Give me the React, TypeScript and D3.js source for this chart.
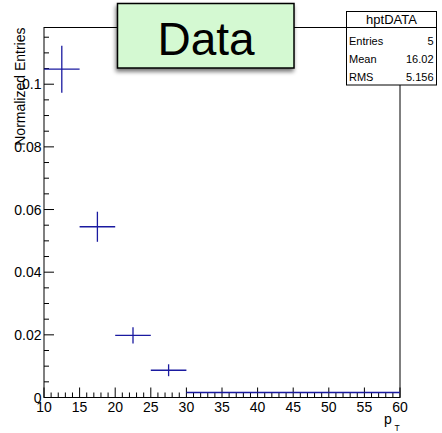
import React from "react";
import * as d3 from "d3";

// Histogram hptDATA: normalized entries per pT bin
const binEdges = [10, 15, 20, 25, 30, 35, 40, 45, 50, 55, 60];
const binValues = [0.1048, 0.0545, 0.0198, 0.0087, 0.0016, 0.0016, 0.0016, 0.0016, 0.0016, 0.0016];
const binErrors = [0.0075, 0.0048, 0.0026, 0.0019, 0, 0, 0, 0, 0, 0];

const xMajorTicks = [10, 15, 20, 25, 30, 35, 40, 45, 50, 55, 60];
const yMajorTicks = [0, 0.02, 0.04, 0.06, 0.08, 0.1];
const yTickLabels = ["0", "0.02", "0.04", "0.06", "0.08", "0.1"];

const statsTitle = "hptDATA";
const statsRows = [
  ["Entries", "5"],
  ["Mean", "16.02"],
  ["RMS", "5.156"],
];
const legendText = "Data";
const yTitle = "Normalized Entries";

const W = 442;
const H = 433;
const frame = { left: 44, right: 400, top: 27.5, bottom: 397.5 };
const font = "'Liberation Sans', Arial, Helvetica, sans-serif";
const markerColor = "#1a1aa0";

export default function App() {
  const x = d3.scaleLinear().domain([10, 60]).range([frame.left, frame.right]);
  const y = d3.scaleLinear().domain([0, 0.1181]).range([frame.bottom, frame.top]);

  const xMinor = d3.range(10, 61, 1);
  const yMinor = d3.range(0, 0.1181, 0.005);

  const bins = binValues.map((v, i) => ({
    x0: binEdges[i],
    x1: binEdges[i + 1],
    v,
    e: binErrors[i],
  }));

  return (
    <svg
      width={W}
      height={H}
      style={{ position: "absolute", left: 0, top: 0, background: "#fff" }}
      fontFamily={font}
    >
      <defs>
        <filter id="paveShadow" x="-20%" y="-30%" width="140%" height="170%">
          <feGaussianBlur in="SourceAlpha" stdDeviation="2" />
          <feOffset dx="-1" dy="3" result="blur" />
          <feComponentTransfer>
            <feFuncA type="linear" slope="0.55" />
          </feComponentTransfer>
          <feMerge>
            <feMergeNode />
            <feMergeNode in="SourceGraphic" />
          </feMerge>
        </filter>
      </defs>

      {/* frame */}
      <rect
        x={frame.left}
        y={frame.top}
        width={frame.right - frame.left}
        height={frame.bottom - frame.top}
        fill="none"
        stroke="#000"
        strokeWidth={1}
      />

      {/* x-axis ticks (pointing up into the frame) */}
      {xMinor.map((t) => {
        const major = t % 5 === 0;
        return (
          <line
            key={"xt" + t}
            x1={x(t)}
            x2={x(t)}
            y1={frame.bottom}
            y2={frame.bottom - (major ? 10 : 5)}
            stroke="#000"
            strokeWidth={1}
          />
        );
      })}
      {xMajorTicks.map((t) => (
        <text
          key={"xl" + t}
          x={x(t)}
          y={412}
          fontSize={14}
          textAnchor="middle"
          fill="#000"
        >
          {t}
        </text>
      ))}

      {/* y-axis ticks (pointing right into the frame) */}
      {yMinor.map((t, i) => {
        const major = i % 4 === 0;
        return (
          <line
            key={"yt" + i}
            x1={frame.left}
            x2={frame.left + (major ? 10 : 5)}
            y1={y(t)}
            y2={y(t)}
            stroke="#000"
            strokeWidth={1}
          />
        );
      })}
      {yMajorTicks.map((t, i) => (
        <text
          key={"yl" + i}
          x={frame.left - 2.5}
          y={y(t) + 5}
          fontSize={14}
          textAnchor="end"
          fill="#000"
        >
          {yTickLabels[i]}
        </text>
      ))}

      {/* axis titles */}
      <text
        transform={`translate(24.5, ${frame.top}) rotate(-90)`}
        fontSize={14}
        textAnchor="end"
        fill="#000"
      >
        {yTitle}
      </text>
      <text x={384} y={424} fontSize={14} fill="#000">
        p
      </text>
      <text x={394.5} y={431} fontSize={8.5} fill="#000">
        T
      </text>

      {/* data markers with error bars */}
      {bins.map((b, i) => {
        const cx = x((b.x0 + b.x1) / 2);
        return (
          <g key={"b" + i} stroke={markerColor} strokeWidth={1.3}>
            <line x1={x(b.x0)} x2={x(b.x1)} y1={y(b.v)} y2={y(b.v)} />
            {b.e > 0 && (
              <line x1={cx} x2={cx} y1={y(b.v + b.e)} y2={y(b.v - b.e)} />
            )}
          </g>
        );
      })}

      {/* legend pave */}
      <g filter="url(#paveShadow)">
        <rect
          x={117.5}
          y={3.5}
          width={176.5}
          height={64.5}
          fill="#d4f9d2"
          stroke="#000"
          strokeWidth={1.5}
        />
      </g>
      <text
        x={206}
        y={55}
        fontSize={46}
        textAnchor="middle"
        fill="#000"
      >
        {legendText}
      </text>

      {/* statistics box */}
      <rect
        x={346.5}
        y={11.5}
        width={90}
        height={73.5}
        fill="#fff"
        stroke="#000"
        strokeWidth={1}
      />
      <line x1={346.5} x2={436.5} y1={27.5} y2={27.5} stroke="#000" strokeWidth={1} />
      <text x={391.5} y={24} fontSize={13} textAnchor="middle" fill="#000">
        {statsTitle}
      </text>
      {statsRows.map((r, i) => (
        <g key={"s" + i} fontSize={11} fill="#000">
          <text x={349} y={45 + i * 17.8}>
            {r[0]}
          </text>
          <text x={433.5} y={45 + i * 17.8} textAnchor="end">
            {r[1]}
          </text>
        </g>
      ))}
    </svg>
  );
}
